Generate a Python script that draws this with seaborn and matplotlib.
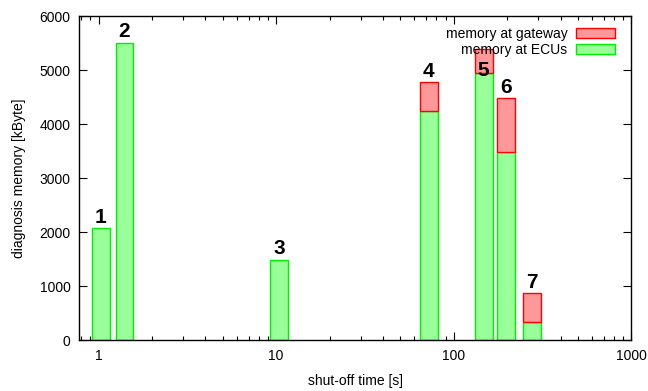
import numpy as np
import matplotlib
matplotlib.use("Agg")
import matplotlib.pyplot as plt
import seaborn as sns
from matplotlib.ticker import LogLocator, NullFormatter, FixedLocator

# shut-off times [s] and memory [kByte]
shutoff = [1.03, 1.40, 10.4, 72.3, 147.6, 197.4, 276]
mem_ecu = [2070, 5510, 1490, 4240, 4940, 3480, 330]
mem_gateway = [0, 0, 0, 540, 445, 995, 535]
bar_labels = ["1", "2", "3", "4", "5", "6", "7"]

sns.set_style("ticks")
plt.rcParams['font.family'] = ['Liberation Sans', 'DejaVu Sans']
plt.rcParams.update({'text.color': 'black', 'axes.labelcolor': 'black',
                     'xtick.color': 'black', 'ytick.color': 'black'})

fig, ax = plt.subplots(figsize=(6.48, 3.91), dpi=100)

x = np.array(shutoff)
ecu = np.array(mem_ecu)
gw = np.array(mem_gateway)
fac = 10 ** 0.05
left = x / fac
width = x * fac - left

ax.bar(left, ecu, width=width, align='edge', color='#99ff99',
       edgecolor='#00ee00', linewidth=1.0, label='memory at ECUs', zorder=2)
m = gw > 0
ax.bar(left[m], gw[m], width=width[m], bottom=ecu[m], align='edge', color='#ff9999',
       edgecolor='#ff0000', linewidth=1.0, label='memory at gateway', zorder=2)

tops = ecu + gw
for xi, top, lab in zip(x, tops, bar_labels):
    off = -22 if lab == "5" else 1
    ax.annotate(lab, (xi, top), xytext=(0, off), textcoords='offset points',
                ha='center', va='bottom', fontsize=15, fontweight='bold')

ax.set_xscale('log')
ax.set_xlim(0.776, 1000)
ax.set_ylim(0, 6000)
ax.xaxis.set_major_locator(FixedLocator([1, 10, 100, 1000]))
ax.set_xticklabels(['1', '10', '100', '1000'])
ax.xaxis.set_minor_locator(LogLocator(base=10, subs=np.arange(2, 10)))
ax.xaxis.set_minor_formatter(NullFormatter())
ax.set_yticks([0, 1000, 2000, 3000, 4000, 5000, 6000])

ax.tick_params(which='both', direction='in', top=True, right=True,
               labelsize=10, width=0.8)
ax.tick_params(which='major', length=6, pad=6)
ax.tick_params(which='minor', length=3)
for s in ax.spines.values():
    s.set_linewidth(1.0)
    s.set_color('black')

ax.set_xlabel('shut-off time [s]', fontsize=10, labelpad=8)
ax.set_ylabel('diagnosis memory [kByte]', fontsize=10, labelpad=10)

h, l = ax.get_legend_handles_labels()
ax.legend(h[::-1], l[::-1], loc='upper right', bbox_to_anchor=(0.99, 1.0),
          frameon=False, markerfirst=False,
          fontsize=10, handlelength=2.8, handleheight=0.7, labelspacing=0.1,
          borderaxespad=0.4, handletextpad=0.6)

fig.subplots_adjust(left=0.122, right=0.974, top=0.959, bottom=0.13)
fig.savefig('out.png', dpi=100)
